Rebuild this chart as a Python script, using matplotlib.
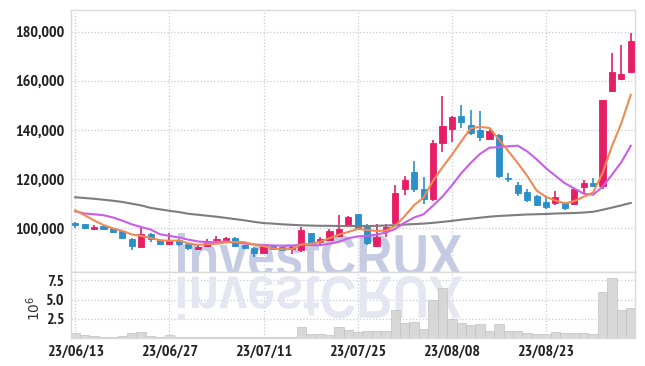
import numpy as np
import matplotlib
matplotlib.use('Agg')
import matplotlib.pyplot as plt
from matplotlib import font_manager as fm
from matplotlib.textpath import TextPath
from matplotlib.patches import PathPatch
from matplotlib.font_manager import FontProperties
from matplotlib.transforms import Affine2D

# trading days (yy/mm/dd)
dates = (['23/06/%02d' % d for d in [13, 14, 15, 16, 19, 20, 21, 22, 23, 26, 27, 28, 29, 30]] +
         ['23/07/%02d' % d for d in [3, 4, 5, 6, 7, 10, 11, 12, 13, 14, 17, 18, 19, 20, 21, 24, 25, 26, 27, 28, 31]] +
         ['23/08/%02d' % d for d in [1, 2, 3, 4, 7, 8, 9, 10, 11, 14, 16, 17, 18, 21, 22, 23, 24, 25, 28, 29, 30, 31]] +
         ['23/09/%02d' % d for d in [1, 4, 5]])

# prices in thousands of won
opens = [102.3, 101.6, 99.5, 100.9, 100.1, 98.8, 95.8, 92.4, 97.5, 95.4,
         93.7, 95.4, 93.5, 91.4, 92.8, 95.3, 94.7, 96.2, 93.1, 92.0,
         90.0, 92.6, 92.2, 91.4, 91.0, 97.9, 94.5, 95.4, 96.9, 101.5,
         105.7, 101.5, 92.8, 98.8, 102.3, 115.8, 123.0, 116.0, 112.0, 134.6,
         140.3, 145.7, 142.0, 140.0, 136.3, 137.9, 120.3, 117.8, 114.9, 113.3,
         110.5, 110.2, 110.1, 110.0, 116.7, 118.5, 117.1, 155.8, 160.7, 163.4]
highs = [102.6, 101.8, 101.4, 101.1, 100.3, 99.0, 96.0, 100.3, 98.0, 95.6,
         97.9, 95.6, 93.7, 93.0, 95.8, 96.9, 96.4, 96.4, 93.3, 92.2,
         93.0, 92.9, 92.5, 92.8, 100.7, 98.1, 96.5, 99.5, 105.5, 105.1,
         105.9, 101.8, 101.6, 101.9, 117.4, 121.4, 127.5, 120.7, 136.0, 154.0,
         145.5, 150.1, 148.1, 147.7, 140.5, 138.2, 122.5, 118.7, 116.0, 113.7,
         112.6, 115.1, 110.5, 116.2, 119.7, 120.5, 152.2, 171.2, 174.6, 179.3]
lows = [99.9, 99.6, 99.3, 99.5, 98.0, 95.9, 91.0, 92.2, 94.5, 93.0,
        93.5, 92.9, 91.3, 91.2, 92.6, 93.7, 94.2, 92.6, 91.5, 88.4,
        89.8, 91.3, 90.6, 89.5, 90.5, 93.5, 92.7, 94.9, 96.4, 100.9,
        99.7, 93.0, 92.5, 96.5, 102.0, 113.7, 114.7, 110.0, 111.0, 131.2,
        134.9, 140.9, 138.0, 135.6, 135.8, 120.5, 119.0, 113.3, 110.8, 109.0,
        108.0, 109.3, 107.6, 109.6, 114.3, 116.8, 115.9, 155.5, 160.5, 163.0]
closes = [101.3, 100.0, 100.5, 99.7, 98.3, 96.1, 92.8, 97.5, 95.6, 93.7,
          94.9, 93.4, 91.8, 92.4, 95.0, 95.8, 96.2, 92.8, 91.8, 90.0,
          92.7, 91.6, 91.0, 92.4, 99.2, 93.8, 95.8, 98.7, 99.5, 104.7,
          99.9, 93.8, 96.5, 100.5, 114.4, 119.7, 116.0, 112.0, 134.6, 141.6,
          145.2, 143.4, 138.7, 137.2, 139.6, 121.4, 119.9, 114.4, 111.3, 109.6,
          108.6, 112.6, 108.4, 116.0, 118.5, 117.1, 152.0, 163.4, 162.9, 176.0]
# volume in millions of shares
volumes = [0.6, 0.45, 0.2, 0.15, 0.15, 0.2, 0.65, 0.8, 0.2, 0.15,
           0.35, 0.15, 0.15, 0.1, 0.15, 0.15, 0.1, 0.15, 0.1, 0.15,
           0.1, 0.1, 0.15, 0.15, 1.45, 0.55, 0.5, 0.45, 1.45, 1.05,
           0.75, 0.95, 0.95, 0.85, 3.65, 2.0, 2.15, 1.2, 5.0, 6.5,
           2.5, 1.9, 1.65, 1.85, 0.95, 1.85, 0.95, 0.95, 0.7, 0.55,
           0.5, 0.8, 0.6, 0.7, 0.6, 0.55, 6.0, 7.8, 3.6, 3.85]
# moving average values before the window fills
ma5_head = [107.3, 105.3, 103.2, 101.3]
ma10_head = [106.9, 106.0, 105.7, 105.3, 104.4, 103.1, 101.6, 100.5, 99.5]
ma60 = [112.6, 112.3, 112.0, 111.6, 111.2, 110.7, 110.0, 109.3, 108.3, 107.7,
        107.1, 106.6, 105.9, 105.5, 105.1, 104.7, 104.2, 103.7, 103.2, 102.6,
        102.1, 101.9, 101.6, 101.4, 101.2, 101.1, 101.0, 101.0, 100.9, 100.9,
        100.9, 100.9, 101.0, 101.1, 101.3, 101.5, 101.7, 101.9, 102.2, 102.6,
        103.0, 103.5, 103.9, 104.3, 104.7, 105.0, 105.2, 105.4, 105.6, 105.7,
        105.8, 106.0, 106.1, 106.2, 106.4, 106.7, 107.5, 108.4, 109.3, 110.3]

UP = '#e61e66'
DOWN = '#2b8fc8'
GRID = '#c9c9dd'
SPINE = '#dadada'

#find a condensed bold face for the tick labels if one is installed
narrow = None
for f in fm.fontManager.ttflist:
    bold = f.weight in ('bold', 700, 'Bold')
    if bold and 'Narrow' in f.name:
        narrow = f.fname
        break
if narrow is None:
    for f in fm.fontManager.ttflist:
        bold = f.weight in ('bold', 700, 'Bold')
        if bold and 'DejaVu' in f.name and 'condensed' in str(f.stretch) and 'Mono' not in f.name:
            narrow = f.fname
            break
if narrow is not None:
    tick_fp = FontProperties(fname=narrow, size=11.5)
else:
    tick_fp = FontProperties(family=['Liberation Sans', 'DejaVu Sans'], weight='bold', size=10)

o = np.array(opens) * 1000
h = np.array(highs) * 1000
l = np.array(lows) * 1000
c = np.array(closes) * 1000
x = np.arange(len(c))

ma5 = np.concatenate([np.array(ma5_head) * 1000, np.convolve(c, np.ones(5) / 5, 'valid')])
ma10 = np.concatenate([np.array(ma10_head) * 1000, np.convolve(c, np.ones(10) / 10, 'valid')])
ma60 = np.array(ma60) * 1000

fig = plt.figure(figsize=(6.45, 3.66), dpi=100)
ax = fig.add_axes([71 / 645, 94 / 366, 564 / 645, 262 / 366])
axv = fig.add_axes([71 / 645, 28 / 366, 564 / 645, 66 / 366], sharex=ax)

#watermark and its reflection
fp = FontProperties(family=['Liberation Sans', 'DejaVu Sans'], weight='bold')
tp = TextPath((0, 0), 'investCRUX', size=100, prop=fp)
bb = tp.get_extents()
def fit(x0, x1, y0, y1, flip=False):
    sx = (x1 - x0) / 645 / bb.width
    sy = (y1 - y0) / 366 / bb.height
    if flip:
        return Affine2D().translate(-bb.x0, -bb.y0).scale(sx, -sy).translate(x0 / 645, (366 - y0) / 366)
    return Affine2D().translate(-bb.x0, -bb.y0).scale(sx, sy).translate(x0 / 645, (366 - y1) / 366)
ax.add_patch(PathPatch(tp, transform=fit(178, 462, 233, 277) + fig.transFigure,
                       facecolor='#c5cbe2', edgecolor='none', zorder=1))
axv.add_patch(PathPatch(tp, transform=fit(178, 462, 276, 320, flip=True) + fig.transFigure,
                        facecolor='#e4e7f1', edgecolor='none', zorder=1))

#candles
colors = [UP if cc >= oo else DOWN for oo, cc in zip(o, c)]
ax.vlines(x, l, h, colors=colors, lw=1.2, zorder=3)
body = np.maximum(np.abs(c - o), 300)
ax.bar(x, body, bottom=np.minimum(o, c), width=0.65, color=colors, edgecolor=colors, lw=0.6, zorder=4)

ax.plot(x, ma60, color='#7d7d7d', lw=1.5, zorder=5)
ax.plot(x, ma10, color='#c95ee8', lw=1.5, zorder=5)
ax.plot(x, ma5, color='#ef8a52', lw=1.5, zorder=5)

axv.bar(x, volumes, width=1.0, color='#d4d4d4', edgecolor='#c4c4c4', lw=0.6, alpha=0.9, zorder=2)

ax.set_xlim(-0.45, 59.45)
ax.set_ylim(82200, 188800)
axv.set_ylim(0, 8.6)

ax.set_yticks(range(100000, 180001, 20000))
ax.set_yticklabels(['{:,}'.format(v) for v in range(100000, 180001, 20000)])
ticks = list(range(0, 60, 10))
axv.set_xticks(ticks)
axv.set_xticklabels([dates[i] for i in ticks])
axv.set_yticks([2.5, 5.0, 7.5])
axv.set_yticklabels(['2.5', '5.0', '7.5'])
plt.setp(ax.get_xticklabels(), visible=False)
axv.set_ylabel('$10^6$', fontsize=10, color='#333333')
axv.yaxis.set_label_coords(-0.05, 0.45)

for a in (ax, axv):
    a.grid(True, color=GRID, ls=':', lw=0.9)
    a.set_axisbelow(True)
    a.tick_params(length=0, pad=5, labelcolor='#222222')
    for lab in a.get_xticklabels() + a.get_yticklabels():
        lab.set_fontproperties(tick_fp)
    for s in a.spines.values():
        s.set_color(SPINE)
        s.set_linewidth(1.0)

fig.savefig('out.png', dpi=100)
